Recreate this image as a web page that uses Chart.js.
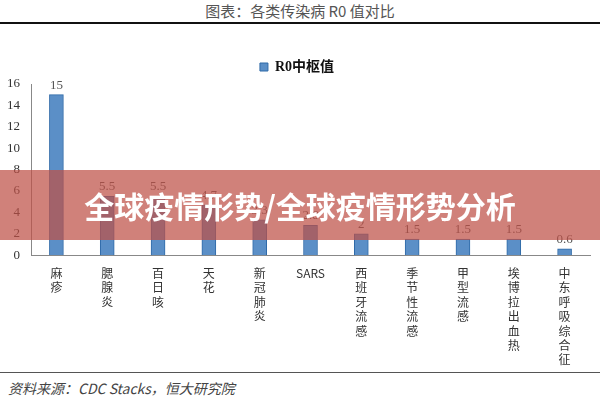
<!DOCTYPE html>
<html>
<head>
<meta charset="utf-8">
<script src="https://cdn.jsdelivr.net/npm/chart.js@4/dist/chart.umd.min.js"></script>
<style>
  body { margin: 0; width: 600px; height: 400px; background: #fff; position: relative; overflow: hidden; font-family: "Noto Sans CJK SC", serif; }
  #title { position: absolute; top: 0; left: 0; width: 600px; text-align: center; font-size: 15px; color: #555; line-height: 22px; }
  #rule { position: absolute; top: 22px; left: 0; width: 600px; border-top: 2px solid #111; }
  #chart { position: absolute; top: 50px; left: 0; }
  #foot-rule { position: absolute; top: 372px; left: 0; width: 600px; border-top: 1px solid #555; }
  #foot { position: absolute; top: 378px; left: 8px; font-size: 14px; font-style: italic; color: #444; }
  #banner { position: absolute; top: 170px; left: 0; width: 600px; height: 70px; background: rgba(190, 80, 70, 0.72);
            color: #fff; font-weight: bold; font-size: 30px; line-height: 70px; text-align: center; }
</style>
</head>
<body>
<div id="title">图表：各类传染病 R0 值对比</div>
<div id="rule"></div>
<canvas id="chart" width="600" height="320"></canvas>
<div id="foot-rule"></div>
<div id="foot">资料来源：CDC Stacks，恒大研究院</div>
<div id="banner">全球疫情形势/全球疫情形势分析</div>
<script>
// --- DATA ---
const diseases = ['麻疹', '腮腺炎', '百日咳', '天花', '新冠肺炎', 'SARS', '西班牙流感', '季节性流感', '甲型流感', '埃博拉出血热', '中东呼吸综合征'];
const r0Values = [15, 5.5, 5.5, 4.7, 3.3, 2.8, 2.0, 1.5, 1.5, 1.5, 0.6];
const yTicks = [0, 2, 4, 6, 8, 10, 12, 14, 16];

// split Chinese names into vertical stacks, keep latin names whole
const stackedLabels = diseases.map(name => /^[A-Z]+$/.test(name) ? name : name.split(''));

// draw value labels above each bar
const valueLabels = {
    id: 'valueLabels',
    afterDatasetsDraw(chart) {
        const ctx = chart.ctx;
        const meta = chart.getDatasetMeta(0);
        ctx.save();
        ctx.font = '13px "Liberation Serif"';
        ctx.fillStyle = '#555';
        ctx.textAlign = 'center';
        ctx.textBaseline = 'bottom';
        meta.data.forEach((bar, i) => {
            ctx.fillText(String(r0Values[i]), bar.x, bar.y - 3);
        });
        ctx.restore();
    }
};

new Chart(document.getElementById('chart'), {
    type: 'bar',
    data: {
        labels: stackedLabels,
        datasets: [{
            label: 'R0中枢值',
            data: r0Values,
            backgroundColor: '#5b8fc7',
            borderColor: '#2f6aa8',
            borderWidth: 1,
            barThickness: 14
        }]
    },
    options: {
        responsive: false,
        animation: false,
        layout: { padding: { left: 4, right: 10, top: 0 } },
        plugins: {
            legend: {
                labels: {
                    boxWidth: 8, boxHeight: 8, color: '#111',
                    font: { size: 14, weight: 'bold', family: '"Liberation Serif", "Noto Sans CJK SC"' }
                }
            },
            tooltip: { enabled: false }
        },
        scales: {
            y: {
                min: 0, max: 16,
                afterBuildTicks: axis => { axis.ticks = yTicks.map(v => ({ value: v })); },
                grid: { display: false },
                border: { color: '#888' },
                ticks: { color: '#333', font: { size: 13, family: '"Liberation Serif"' } }
            },
            x: {
                grid: { display: false },
                border: { color: '#888' },
                ticks: { color: '#333', maxRotation: 0, autoSkip: false,
                         font: { size: 12, family: '"Noto Sans CJK SC"' } }
            }
        }
    },
    plugins: [valueLabels]
});
</script>
</body>
</html>
